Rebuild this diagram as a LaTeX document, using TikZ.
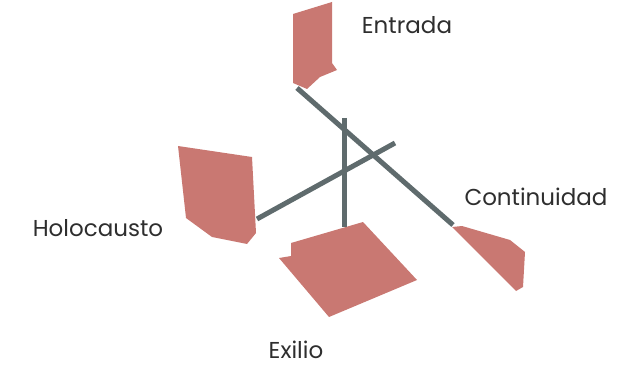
\documentclass[tikz,border=0pt]{standalone}
\usepackage{fontspec}
\setmainfont{Poppins}
\definecolor{petal}{HTML}{C97872}
\definecolor{stem}{HTML}{5F6B6D}
\definecolor{ink}{HTML}{2E2E2E}
\tikzset{
    petalshape/.style={fill=petal, draw=none},
    stemline/.style={draw=stem, line width=5pt},
    label/.style={text=ink, font=\fontsize{23}{26}\selectfont, inner sep=0pt}
}
\begin{document}
\begin{tikzpicture}[x=1pt, y=-1pt]
    \useasboundingbox (0,0) rectangle (626,366);

    % Draw the four petals
    \fill[petalshape] (293,14) -- (332,2) -- (332,63) -- (337,70) -- (320,77) -- (307,89) -- (293,83) -- cycle;
    \fill[petalshape] (178,146) -- (252,157) -- (256,233) -- (247,244) -- (212,237) -- (186,218) -- cycle;
    \fill[petalshape] (291,243) -- (363,222) -- (417,280) -- (329,317) -- (279,258) -- (291,256) -- cycle;
    \fill[petalshape] (452,227) -- (462,226) -- (510,240) -- (525,252) -- (523,287) -- (516,291) -- cycle;

    % Draw the stems
    \coordinate (entradaEnd) at (297,88);
    \coordinate (contEnd) at (453,225);
    \coordinate (holoEnd) at (257,219);
    \coordinate (holoTip) at (395,143);
    \coordinate (exilioTop) at (344,118);
    \coordinate (exilioEnd) at (344,227);
    \draw[stemline] (entradaEnd) -- (contEnd);
    \draw[stemline] (holoEnd) -- (holoTip);
    \draw[stemline] (exilioTop) -- (exilioEnd);

    % Labels
    \node[label] (entrada) at (407,25) {Entrada};
    \node[label] (continuidad) at (536,197) {Continuidad};
    \node[label] (holocausto) at (98,228) {Holocausto};
    \node[label] (exilio) at (296,350) {Exilio};
\end{tikzpicture}
\end{document}
